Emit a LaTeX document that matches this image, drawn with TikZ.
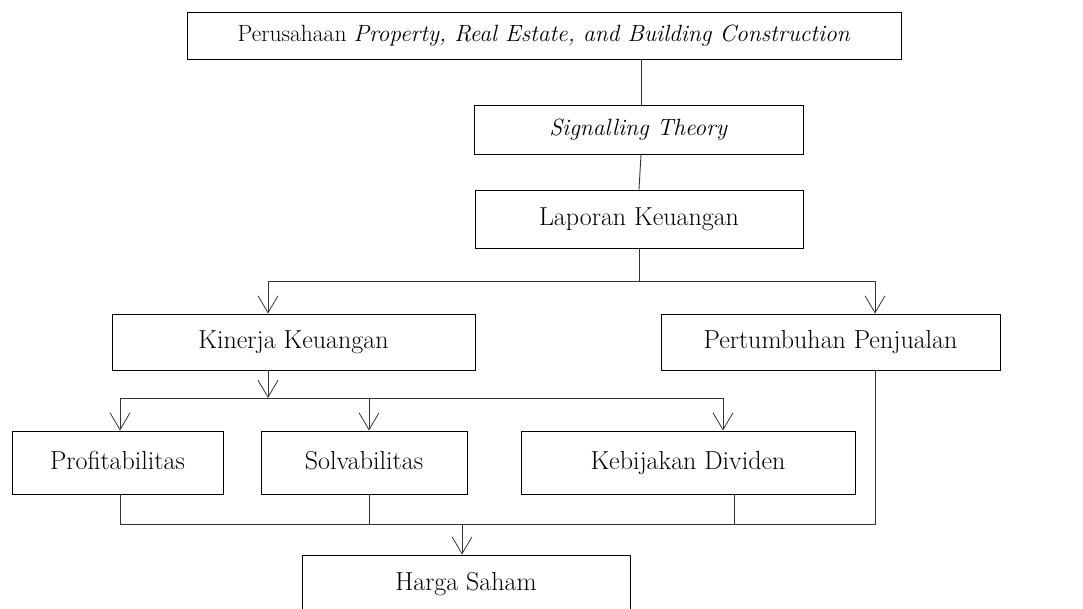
\documentclass[tikz,border=0pt]{standalone}
\usetikzlibrary{arrows.meta}
\begin{document}
\begin{tikzpicture}[x=1pt,y=-1pt,
  box/.style={draw=black,line width=0.9pt,inner sep=0pt,text height=18pt,text depth=5pt,font=\fontsize{26}{30}\selectfont},
  itbox/.style={box,text height=16.5pt,text depth=4.5pt,font=\fontsize{23.5}{27}\selectfont},
  conn/.style={draw=black!80,line width=0.9pt},
  arr/.style={conn,-{Straight Barb[length=17pt,width=20pt,line width=0.8pt]}}]
\useasboundingbox (0,0) rectangle (1083,608);
\clip (0,0) rectangle (1083,608);
\fill[white] (0,0) rectangle (1083,608);
\node[itbox,minimum width=714pt,minimum height=47pt] (top) at (544,35.5) {Perusahaan \textit{Property, Real Estate, and Building Construction}};
\node[itbox,minimum width=329pt,minimum height=49pt] (sig) at (638.5,129.5) {\textit{Signalling Theory}};
\node[box,minimum width=328pt,minimum height=58pt] (lap) at (639,219) {Laporan Keuangan};
\node[box,minimum width=363pt,minimum height=56pt] (kin) at (293.5,342) {Kinerja Keuangan};
\node[box,minimum width=339pt,minimum height=56pt] (per) at (830.5,342) {Pertumbuhan Penjualan};
\node[box,minimum width=211pt,minimum height=63pt] (pro) at (117.5,462.5) {Profitabilitas};
\node[box,minimum width=206pt,minimum height=63pt] (sol) at (364,462.5) {Solvabilitas};
\node[box,minimum width=334pt,minimum height=63pt] (keb) at (688,462.5) {Kebijakan Dividen};
\node[box,minimum width=328pt,minimum height=58pt] (har) at (466,584) {Harga Saham};
\coordinate (j1) at (639,281);
\coordinate (j2) at (268,398);
\coordinate (j3) at (462,524);
% top connections
\draw[conn] ([xshift=2.5pt]sig.north) -- ([xshift=2.5pt]sig.north |- top.south);
\draw[conn] ([xshift=2.5pt]sig.south) -- (lap.north);
\draw[conn] (lap.south) -- (j1);
\draw[arr] (j1) -| ([xshift=-25.5pt]kin.north);
\draw[arr] (j1) -| ([xshift=44.5pt]per.north);
% kinerja to sub
\draw[arr] ([xshift=-25.5pt]kin.south) -- (j2);
\draw[arr] (j2) -| ([xshift=2.5pt]pro.north);
\draw[arr] (j2) -| ([xshift=5pt]sol.north);
\draw[arr] (j2) -| ([xshift=35pt]keb.north);
% bottom collection
\draw[conn] ([xshift=2.5pt]pro.south) |- (j3);
\draw[conn] ([xshift=5pt]sol.south) |- (j3);
\draw[conn] ([xshift=46pt]keb.south) |- (j3);
\draw[conn] ([xshift=44.5pt]per.south) |- (j3);
\draw[arr] (j3) -- ([xshift=-4pt]har.north);
\end{tikzpicture}
\end{document}
